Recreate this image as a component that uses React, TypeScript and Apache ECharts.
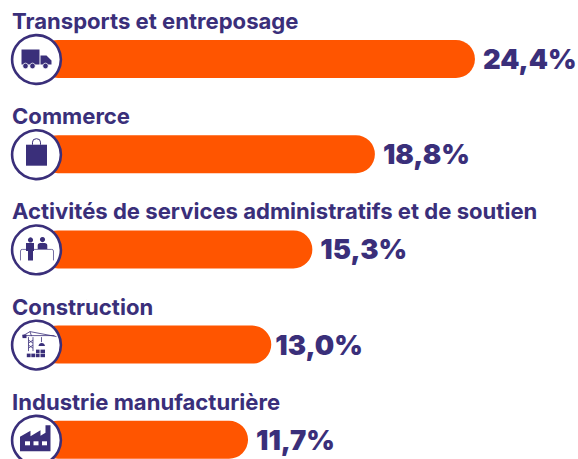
import React, { useEffect, useRef } from "react";
import * as echarts from "echarts";

const categories = [
  "Transports et entreposage",
  "Commerce",
  "Activités de services administratifs et de soutien",
  "Construction",
  "Industrie manufacturière",
];
const values = [24.4, 18.8, 15.3, 13.0, 11.7];
const icons = ["truck", "bag", "people", "crane", "factory"];

const NAVY = "#3a2f7a";
const ORANGE = "#ff5500";
const FONT = "Inter, 'Noto Sans', sans-serif";

const p = (d: string, fill = NAVY) => ({
  type: "path",
  shape: { pathData: `M-50,-50h0.01z M50,50h0.01z ${d}`, x: -50, y: -50, width: 100, height: 100 },
  style: { fill },
});
const line = (d: string, w = 0.8) => ({
  type: "path",
  shape: { pathData: `M-50,-50h0.01z M50,50h0.01z ${d}`, x: -50, y: -50, width: 100, height: 100 },
  style: { fill: "none", stroke: NAVY, lineWidth: w },
});
const dot = (cx: number, cy: number, r: number, fill = NAVY, stroke?: string) => ({
  type: "circle",
  shape: { cx, cy, r },
  style: stroke ? { fill, stroke, lineWidth: 0.8 } : { fill },
});
const box = (x: number, y: number, width: number, height: number, fill = NAVY) => ({
  type: "rect",
  shape: { x, y, width, height },
  style: { fill },
});

const glyphs: Record<string, any[]> = {
  truck: [
    box(-15, -10, 18, 15),
    p("M4,-4H10L15,1V5H4Z"),
    dot(-11, 6.5, 2.8, NAVY, "#fff"),
    dot(-4, 6.5, 2.8, NAVY, "#fff"),
    dot(9, 6.5, 2.8, NAVY, "#fff"),
  ],
  bag: [
    box(-10.5, -10, 21, 21),
    line("M-4,-10V-12.5A4,3.5 0 0 1 4,-12.5V-10", 1),
  ],
  people: [
    dot(-6, -10, 2.6),
    dot(6, -10.3, 2.6),
    p("M-10.5,-7H-2.5V1H-3.5V10.5H-8.5V1H-10.5Z"),
    p("M1.2,-4.5Q1.2,-7 4,-7H8Q10.8,-7 10.8,-4.5V-1H1.2Z"),
    line("M-16,10.5V1Q-16,-0.5 -14,-0.5H15Q17,-0.5 17,1V10.5", 0.7),
  ],
  crane: [
    line("M-14,-9L-6.5,-13.5L20,-8.5M-6.5,-13.5L-5,-9M-14,-9.5H18", 0.8),
    box(-14, -10.5, 4, 3.5),
    line("M-8,-8V6M-3.5,-8V6M-8,-5L-3.5,-2M-3.5,-5L-8,-2M-8,0L-3.5,3M-3.5,0L-8,3", 0.8),
    line("M5,-8V-3", 0.8),
    p("M2,1A3.3,3.8 0 0 1 8.5,1Z"),
    box(-9.7, 8.5, 3.8, 3.6), box(-5.2, 8.5, 3.8, 3.6), box(-0.7, 8.5, 3.8, 3.6), box(4, 8.5, 4.5, 3.6),
    box(-0.5, 4.5, 3.6, 3.4), box(4, 4.5, 4.5, 3.4),
  ],
  factory: [
    p("M-16.5,11V-3.5L-6,-9.5V-4L4,-10V-4.5L9,-7.5V-15H14V11Z"),
    box(-11.5, 1, 5, 4, "#fff"),
    box(-3, 1, 5, 4, "#fff"),
    box(5.5, 1, 5, 4, "#fff"),
  ],
};

export default function App() {
  const ref = useRef<HTMLDivElement>(null);
  useEffect(() => {
    document.body.style.margin = "0";
    const chart = echarts.init(ref.current!, undefined, { renderer: "svg" });
    chart.setOption({
      animation: false,
      grid: { left: 39, top: 11.4, width: 536, height: 476, containLabel: false, outerBoundsMode: "none" },
      xAxis: { type: "value", min: 0, max: 30, show: false },
      yAxis: {
        type: "category",
        inverse: true,
        data: categories,
        axisLine: { show: false },
        axisTick: { show: false },
        axisLabel: {
          margin: 27,
          align: "left",
          verticalAlign: "bottom",
          padding: [0, 0, 27, 0],
          color: NAVY,
          fontFamily: FONT,
          fontWeight: 700,
          fontSize: 22.1,
        },
      },
      series: [
        {
          type: "bar",
          data: values.map((value, i) => (i === 3 ? { value, label: { distance: 4 } } : value)),
          barWidth: 38,
          itemStyle: { color: ORANGE, borderRadius: 19 },
          label: {
            show: true,
            position: "right",
            distance: 8,
            formatter: (o: any) => `${o.value.toFixed(1).replace(".", ",")}%`,
            color: NAVY,
            fontFamily: FONT,
            fontWeight: 900,
            fontSize: 27.4,
          },
        },
        {
          type: "custom",
          z: 5,
          clip: false,
          silent: true,
          data: categories.map((_, i) => [0, i]),
          encode: { x: 0, y: 1 },
          renderItem: (params: any, api: any) => {
            const [cx, cy] = api.coord([0, api.value(1)]);
            return {
              type: "group",
              x: cx - 2.5,
              y: cy + 0.5,
              children: [
                {
                  type: "circle",
                  shape: { cx: 0, cy: 0, r: 24.4 },
                  style: { fill: "#fff", stroke: NAVY, lineWidth: 2.6 },
                },
                ...glyphs[icons[params.dataIndex]],
              ],
            };
          },
        },
      ],
    });
    return () => chart.dispose();
  }, []);
  return <div ref={ref} style={{ width: 578, height: 459, background: "#fff" }} />;
}
